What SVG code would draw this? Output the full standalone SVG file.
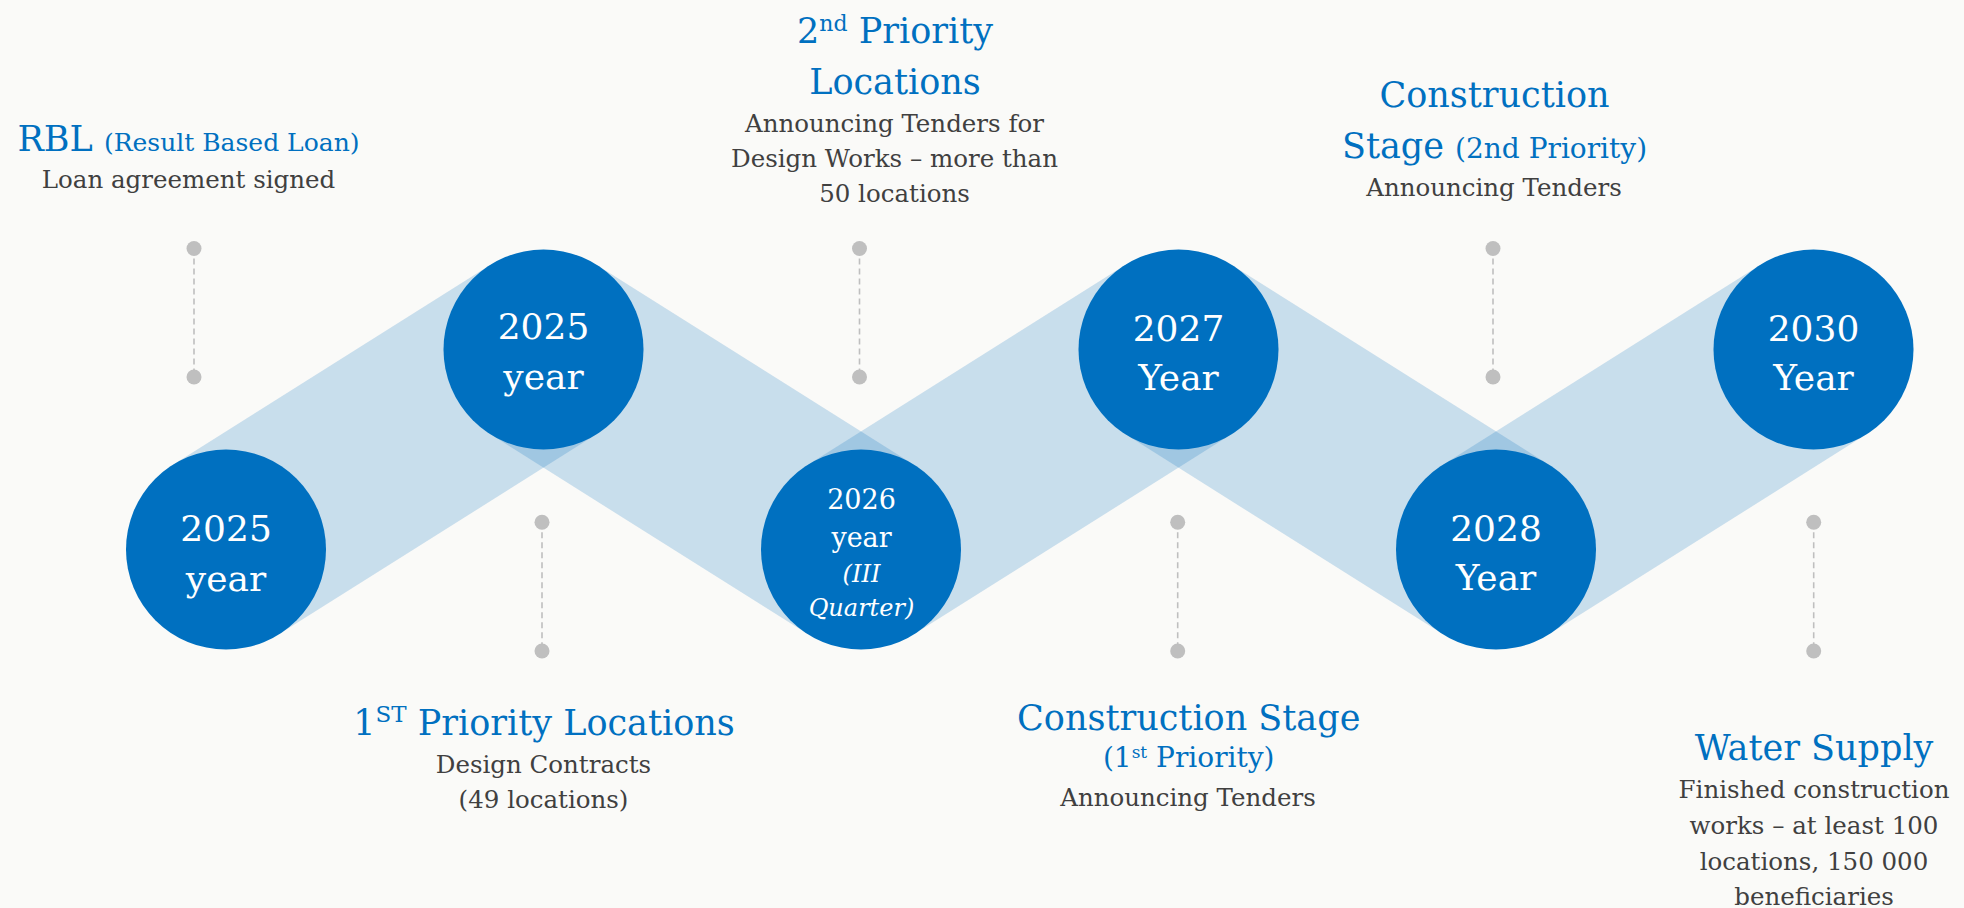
<svg xmlns="http://www.w3.org/2000/svg" width="1964" height="908" viewBox="0 0 1964 908">
  <style>
    text { font-family: "DejaVu Serif", "Liberation Serif", serif; }
    .band { fill: #0070C0; fill-opacity: 0.2; }
    .node { fill: #0070C0; }
    .yr { fill: #FFFFFF; font-size: 36px; text-anchor: middle; }
    .yrs { fill: #FFFFFF; font-size: 27px; text-anchor: middle; }
    .yri { fill: #FFFFFF; font-size: 24px; font-style: italic; text-anchor: middle; }
    .title { fill: #0070C0; font-size: 35px; text-anchor: middle; }
    .sub { fill: #0070C0; font-size: 28px; text-anchor: middle; }
    .body { fill: #404040; font-size: 24.5px; text-anchor: middle; }
    .lead { stroke: #BFBFBF; stroke-width: 1.6; stroke-dasharray: 6 4; fill: none; }
    .dot { fill: #BFBFBF; }
  </style>
  <rect x="0" y="0" width="1964" height="908" fill="#FAFAF8"/>

  <g id="connectors">
    <polygon class="band" points="172.7,464.9 490.2,264.9 596.8,434.1 279.3,634.1"/>
    <polygon class="band" points="490.2,434.1 596.8,264.9 914.3,464.9 807.7,634.1"/>
    <polygon class="band" points="807.7,464.9 1125.2,264.9 1231.8,434.1 914.3,634.1"/>
    <polygon class="band" points="1125.2,434.1 1231.8,264.9 1549.3,464.9 1442.7,634.1"/>
    <polygon class="band" points="1442.7,464.9 1760.2,264.9 1866.8,434.1 1549.3,634.1"/>
  </g>

  <g id="leaders">
    <line class="lead" x1="194" y1="248.5" x2="194" y2="377"/>
    <circle class="dot" cx="194" cy="248.5" r="7.5"/>
    <circle class="dot" cx="194" cy="377" r="7.5"/>
    <line class="lead" x1="859.5" y1="248.5" x2="859.5" y2="377"/>
    <circle class="dot" cx="859.5" cy="248.5" r="7.5"/>
    <circle class="dot" cx="859.5" cy="377" r="7.5"/>
    <line class="lead" x1="1493" y1="248.5" x2="1493" y2="377"/>
    <circle class="dot" cx="1493" cy="248.5" r="7.5"/>
    <circle class="dot" cx="1493" cy="377" r="7.5"/>
    <line class="lead" x1="542" y1="522.3" x2="542" y2="651"/>
    <circle class="dot" cx="542" cy="522.3" r="7.5"/>
    <circle class="dot" cx="542" cy="651" r="7.5"/>
    <line class="lead" x1="1177.7" y1="522.3" x2="1177.7" y2="651"/>
    <circle class="dot" cx="1177.7" cy="522.3" r="7.5"/>
    <circle class="dot" cx="1177.7" cy="651" r="7.5"/>
    <line class="lead" x1="1813.7" y1="522.3" x2="1813.7" y2="651"/>
    <circle class="dot" cx="1813.7" cy="522.3" r="7.5"/>
    <circle class="dot" cx="1813.7" cy="651" r="7.5"/>
  </g>

  <g id="node-2025a">
    <circle class="node" cx="226" cy="549.5" r="100"/>
    <text class="yr" x="226" y="540.5">2025</text>
    <text class="yr" x="226" y="591">year</text>
  </g>
  <g id="node-2025b">
    <circle class="node" cx="543.5" cy="349.5" r="100"/>
    <text class="yr" x="543.5" y="339">2025</text>
    <text class="yr" x="543.5" y="388.5">year</text>
  </g>
  <g id="node-2026">
    <circle class="node" cx="861" cy="549.5" r="100"/>
    <text class="yrs" x="861.5" y="509">2026</text>
    <text class="yrs" x="861.5" y="547">year</text>
    <text class="yri" x="861.5" y="581.5">(III</text>
    <text class="yri" x="861.5" y="616">Quarter)</text>
  </g>
  <g id="node-2027">
    <circle class="node" cx="1178.5" cy="349.5" r="100"/>
    <text class="yr" x="1178.5" y="340.5">2027</text>
    <text class="yr" x="1178.5" y="390">Year</text>
  </g>
  <g id="node-2028">
    <circle class="node" cx="1496" cy="549.5" r="100"/>
    <text class="yr" x="1496" y="540.5">2028</text>
    <text class="yr" x="1496" y="590">Year</text>
  </g>
  <g id="node-2030">
    <circle class="node" cx="1813.5" cy="349.5" r="100"/>
    <text class="yr" x="1813.5" y="340.5">2030</text>
    <text class="yr" x="1813.5" y="390">Year</text>
  </g>

  <g id="label-rbl">
    <text class="title" x="188.5" y="150.5">RBL <tspan font-size="25">(Result Based Loan)</tspan></text>
    <text class="body" x="188.5" y="188.3">Loan agreement signed</text>
  </g>
  <g id="label-1st-priority">
    <text class="title" x="544" y="735">1<tspan font-size="23" dy="-13">ST</tspan><tspan dy="13"> Priority Locations</tspan></text>
    <text class="body" x="543.5" y="772.7">Design Contracts</text>
    <text class="body" x="543.5" y="808">(49 locations)</text>
  </g>
  <g id="label-2nd-priority">
    <text class="title" x="895" y="42.7">2<tspan font-size="22" dy="-12">nd</tspan><tspan dy="12"> Priority</tspan></text>
    <text class="title" x="895" y="94.3">Locations</text>
    <text class="body" x="894.5" y="131.7">Announcing Tenders for</text>
    <text class="body" x="894.5" y="166.7">Design Works – more than</text>
    <text class="body" x="894.5" y="201.7">50 locations</text>
  </g>
  <g id="label-construction-1st">
    <text class="title" x="1188.7" y="730">Construction Stage</text>
    <text class="sub" x="1188.7" y="766.7">(1<tspan font-size="17" dy="-9">st</tspan><tspan dy="9"> Priority)</tspan></text>
    <text class="body" x="1188" y="806">Announcing Tenders</text>
  </g>
  <g id="label-construction-2nd">
    <text class="title" x="1494.5" y="107.3">Construction</text>
    <text class="title" x="1494.5" y="158.3">Stage <tspan font-size="28">(2nd Priority)</tspan></text>
    <text class="body" x="1494" y="195.7">Announcing Tenders</text>
  </g>
  <g id="label-water-supply">
    <text class="title" x="1814" y="760">Water Supply</text>
    <text class="body" x="1814" y="797.7">Finished construction</text>
    <text class="body" x="1814" y="834">works – at least 100</text>
    <text class="body" x="1814" y="870">locations, 150 000</text>
    <text class="body" x="1814" y="905">beneficiaries</text>
  </g>
</svg>
